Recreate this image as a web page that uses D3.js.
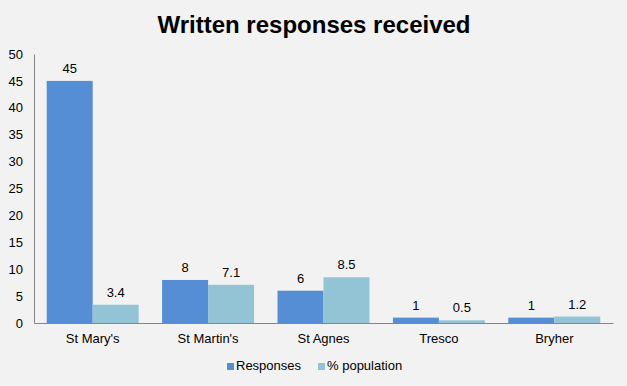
<!DOCTYPE html>
<html>
<head>
<meta charset="utf-8">
<script src="https://cdn.jsdelivr.net/npm/d3@7"></script>
<style>
  body { margin: 0; background: #f2f2f2; }
  svg { display: block; font-family: "Liberation Sans", Arial, sans-serif; }
</style>
</head>
<body>
<svg id="chart" width="627" height="386"></svg>
<script>
var islands = ["St Mary's", "St Martin's", "St Agnes", "Tresco", "Bryher"];
var responses = [45, 8, 6, 1, 1];
var population = [3.4, 7.1, 8.5, 0.5, 1.2];
var seriesNames = ["Responses", "% population"];
var yTicks = [0, 5, 10, 15, 20, 25, 30, 35, 40, 45, 50];

var colors = ["#558ed5", "#93c4d6"];
var svg = d3.select("#chart");
var plotLeft = 34, plotRight = 613, plotTop = 54, plotBottom = 323;

svg.append("rect").attr("width", 627).attr("height", 386).attr("fill", "#f2f2f2");

var x = d3.scaleBand().domain(islands).range([plotLeft, plotRight]).paddingInner(0.203).paddingOuter(0.11);
var x1 = d3.scaleBand().domain(seriesNames).range([0, x.bandwidth()]);
var y = d3.scaleLinear().domain([0, 50]).range([plotBottom, plotTop]);

var rows = islands.map(function(d, i) {
    return { name: d, values: [responses[i], population[i]] };
});

// bars
var groups = svg.selectAll("g.grp").data(rows).enter().append("g")
    .attr("class", "grp")
    .attr("transform", function(d) { return "translate(" + x(d.name) + ",0)"; });

groups.selectAll("rect").data(function(d) {
        return d.values.map(function(v, k) { return { key: seriesNames[k], v: v, k: k }; });
    })
    .enter().append("rect")
    .attr("x", function(d) { return x1(d.key); })
    .attr("y", function(d) { return y(d.v); })
    .attr("width", x1.bandwidth())
    .attr("height", function(d) { return plotBottom - y(d.v); })
    .attr("fill", function(d) { return colors[d.k]; });

groups.selectAll("text").data(function(d) {
        return d.values.map(function(v, k) { return { key: seriesNames[k], v: v }; });
    })
    .enter().append("text")
    .attr("x", function(d) { return x1(d.key) + x1.bandwidth() / 2; })
    .attr("y", function(d) { return y(d.v) - 8; })
    .attr("text-anchor", "middle")
    .style("font-size", "13px")
    .attr("fill", "#000")
    .text(function(d) { return d.v; });

// y axis
var yAxis = svg.append("g")
    .attr("transform", "translate(" + plotLeft + ",0)")
    .call(d3.axisLeft(y).tickValues(yTicks).tickSize(0).tickPadding(11));
yAxis.select(".domain").attr("stroke", "#868686");
yAxis.selectAll("text").style("font-size", "13px").attr("fill", "#000")
    .attr("font-family", "Liberation Sans, Arial, sans-serif");

// x axis
var xAxis = svg.append("g")
    .attr("transform", "translate(0," + plotBottom + ")")
    .call(d3.axisBottom(x).tickSize(0).tickPadding(11));
xAxis.select(".domain").attr("stroke", "#868686");
xAxis.selectAll("text").style("font-size", "13px").attr("fill", "#000")
    .attr("font-family", "Liberation Sans, Arial, sans-serif");

// title
svg.append("text")
    .attr("x", 314).attr("y", 33)
    .attr("text-anchor", "middle")
    .style("font-size", "24px")
    .style("font-weight", "bold")
    .text("Written responses received");

// legend
var legX = [227, 318];
var leg = svg.selectAll("g.leg").data(seriesNames).enter().append("g")
    .attr("class", "leg")
    .attr("transform", function(d, i) { return "translate(" + legX[i] + ",370)"; });
leg.append("rect").attr("x", 0).attr("y", -7).attr("width", 7).attr("height", 7)
    .attr("fill", function(d, i) { return colors[i]; });
leg.append("text").attr("x", 9).attr("y", 0)
    .style("font-size", "13px")
    .text(function(d) { return d; });
</script>
</body>
</html>
